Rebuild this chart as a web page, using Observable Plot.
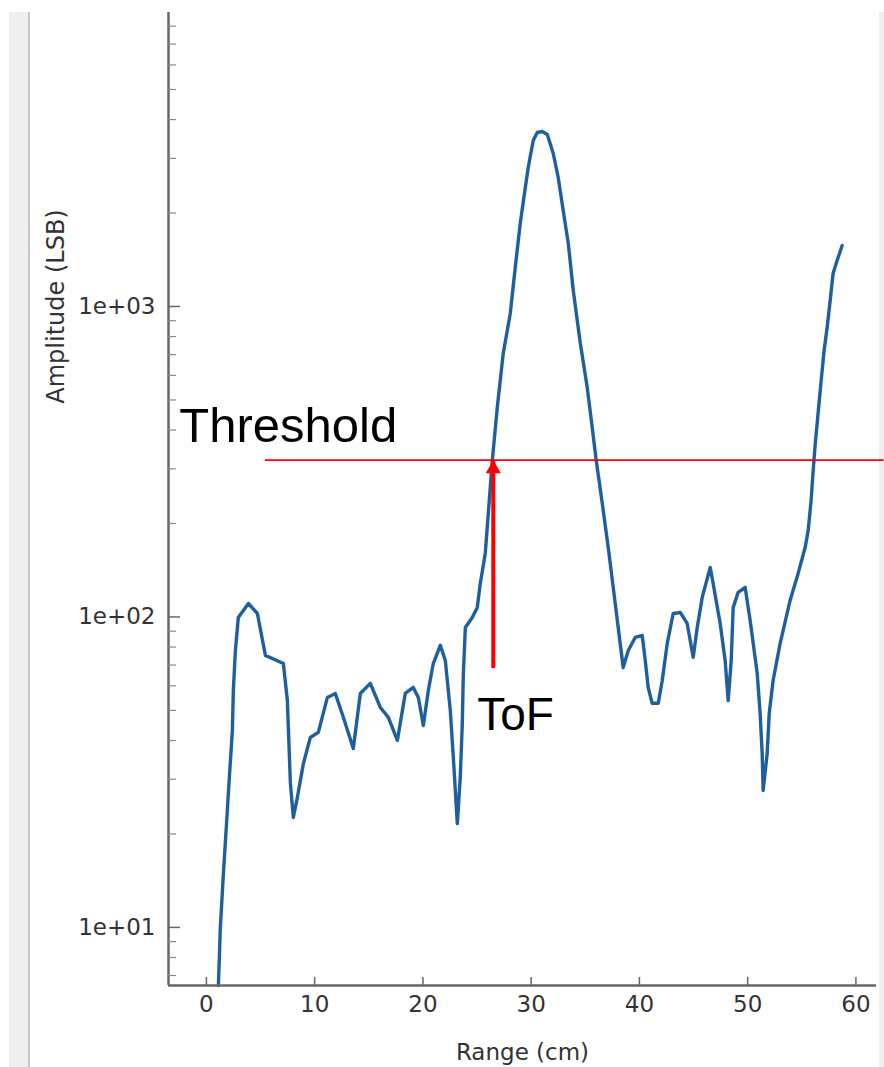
<!DOCTYPE html>
<html><head><meta charset="utf-8">
<script src="https://cdn.jsdelivr.net/npm/d3@7"></script>
<script src="https://cdn.jsdelivr.net/npm/@observablehq/plot@0.6"></script>
<style>
html,body{margin:0;padding:0;background:#fff;}
#wrap{position:relative;width:884px;height:1067px;overflow:hidden;background:#fff;}
.band{position:absolute;}
#chart{position:absolute;left:0;top:0;}
</style></head><body>
<div id="wrap">
<div class="band" style="left:9px;top:12px;width:19px;bottom:0;background:#efefef"></div>
<div class="band" style="left:28px;top:12px;width:2px;bottom:0;background:#c6c6c6"></div>
<div class="band" style="left:879px;top:12px;width:5px;bottom:0;background:#efefef"></div>
<div id="chart"></div>
</div>
<script>
// Range (cm) of each sample of the trace
const rangeCm = [1.11,1.29,1.57,1.85,2.12,2.40,2.49,2.68,2.95,3.88,
  4.71,5.45,7.11,7.48,7.76,8.03,8.40,8.96,9.60,10.34,
  11.17,11.91,12.65,13.57,14.22,15.14,16.07,16.81,17.64,18.37,
  19.11,19.58,20.04,20.50,20.96,21.61,22.07,22.53,22.81,23.18,
  23.45,23.64,23.73,23.92,24.56,25.02,25.30,25.76,26.04,26.41,
  26.87,27.42,28.07,28.53,28.99,29.46,29.73,30.19,30.56,31.02,
  31.49,32.04,32.50,32.96,33.43,33.89,34.53,35.18,35.64,36.01,
  36.57,37.12,37.58,38.04,38.50,38.97,39.61,40.26,40.54,40.81,
  41.18,41.74,42.11,42.57,43.12,43.77,44.41,44.97,45.34,45.80,
  46.54,46.81,47.46,47.92,48.20,48.48,48.66,49.12,49.77,50.23,
  50.88,51.15,51.34,51.43,51.80,51.99,52.35,53.00,53.92,54.66,
  55.31,55.59,55.86,56.05,56.23,56.51,56.79,57.06,57.34,57.62,
  57.89,58.26,58.73];
// Amplitude (LSB)
const amplitude = [6.5,10.0,14.9,21.3,30.4,43.1,58.0,78.0,99.6,110.5,
  102.6,75.2,70.8,53.8,29.1,22.6,26.2,33.7,40.9,42.5,
  55.0,56.7,47.5,37.7,56.7,61.1,51.1,47.5,40.0,56.7,
  59.3,55.0,44.7,58.0,70.8,81.0,72.4,50.0,35.3,21.6,
  30.4,45.4,64.8,92.5,99.6,107.3,128.2,160.2,215.4,319,
  472.8,706,949.5,1335,1851,2417,2804,3424,3635,3661,
  3581,3110,2603,2037,1596,1126,765.5,548,407.6,319,
  232,167.4,124.5,92.5,68.7,78.0,85.9,87.2,72.4,59.3,
  52.7,52.7,62.4,82.2,102.6,103.4,95.3,74.1,92.5,115.6,
  144.3,128.2,95.3,72.4,53.8,72.4,107.3,120.0,124.5,97.4,
  65.8,48.9,36.3,27.6,36.3,48.9,62.4,82.2,113.0,138.1,
  167.4,190.0,237.3,296.3,356.7,455.6,577.9,721.7,855.7,1045,
  1277,1406,1572];

const xTickValues = [0,10,20,30,40,50,60];
const xTickLabels = ["0","10","20","30","40","50","60"];
const yTickValues = [10,100,1000];
const yTickLabels = ["1e+01","1e+02","1e+03"];
const yMinorTicks = [7,8,9,20,30,40,50,60,70,80,90,200,300,400,500,600,700,800,900,2000,3000,4000,5000,6000,7000,8000];
const xTitle = "Range (cm)";
const yTitle = "Amplitude (LSB)";
const yTitleAt = 1000;

// annotations
const threshold = 320;
const thresholdFrom = 5.45;
const thresholdTo = 62.6;
const thresholdLabel = "Threshold";
const thresholdLabelAt = -2.5;
const tofCm = 26.5;
const tofBase = 68.5;
const tofLabel = "ToF";

const xDomain = [-3.5, 61.9];
const yDomain = [6.5, 8850];

const W = 884, H = 1067, mL = 168, mR = 8, mT = 12, mB = 82;
const plotW = W - mL - mR, plotH = H - mT - mB;
const axisColor = "#666";
const textColor = "#333";

const chart = Plot.plot({
  width: W, height: H,
  marginLeft: mL, marginRight: mR, marginTop: mT, marginBottom: mB,
  x: {domain: xDomain, axis: null},
  y: {type: "log", domain: yDomain, axis: null},
  style: {background: "transparent", fontFamily: "DejaVu Sans", overflow: "visible"},
  marks: [
    Plot.line(amplitude, {x: rangeCm, y: amplitude, stroke: "#1f5f9e", strokeWidth: 3.4, strokeLinejoin: "round"}),
    // axes
    Plot.ruleX([xDomain[0]], {stroke: axisColor, strokeWidth: 2.5}),
    Plot.ruleY([yDomain[0]], {stroke: axisColor, strokeWidth: 2.5}),
    Plot.tickY(yTickValues, {y: d => d, stroke: axisColor, strokeWidth: 1.5, insetRight: plotW - 12}),
    Plot.tickY(yMinorTicks, {y: d => d, stroke: "#888", strokeWidth: 1.2, insetRight: plotW - 8}),
    Plot.tickX(xTickValues, {x: d => d, stroke: axisColor, strokeWidth: 1.5, insetTop: plotH - 8}),
    Plot.text(yTickValues, {x: xDomain[0], y: d => d, text: (d, i) => yTickLabels[i], textAnchor: "end", dx: -13, fontSize: 23, fill: textColor}),
    Plot.text(xTickValues, {x: d => d, y: yDomain[0], text: (d, i) => xTickLabels[i], dy: 19, fontSize: 23, fill: textColor}),
    Plot.text([yTitle], {x: xDomain[0], y: yTitleAt, text: d => d, rotate: -90, dx: -112, fontSize: 24, fill: textColor}),
    Plot.text([xTitle], {frameAnchor: "bottom", text: d => d, dy: 58, lineAnchor: "top", fontSize: 23, fill: textColor}),
    // annotations
    Plot.ruleY([threshold], {y: d => d, x1: thresholdFrom, x2: thresholdTo, stroke: "#ff0000", strokeWidth: 1.6}),
    Plot.link([tofLabel], {x1: tofCm, y1: tofBase, x2: tofCm, y2: threshold, stroke: "#ff0000", strokeWidth: 4}),
    Plot.dot([tofLabel], {x: tofCm, y: threshold, symbol: "triangle", r: 5.6, fill: "#ff0000", stroke: "none", dy: 8.7}),
    Plot.text([thresholdLabel], {x: thresholdLabelAt, y: threshold, text: d => d, dy: -18, textAnchor: "start", lineAnchor: "bottom", fontSize: 49, fontFamily: "Liberation Sans", fill: "#000"}),
    Plot.text([tofLabel], {x: tofCm, y: tofBase, text: d => d, dx: -16, dy: 62, textAnchor: "start", lineAnchor: "bottom", fontSize: 46, fontFamily: "Liberation Sans", fill: "#000"})
  ]
});
document.getElementById("chart").appendChild(chart);
</script>
</body></html>
